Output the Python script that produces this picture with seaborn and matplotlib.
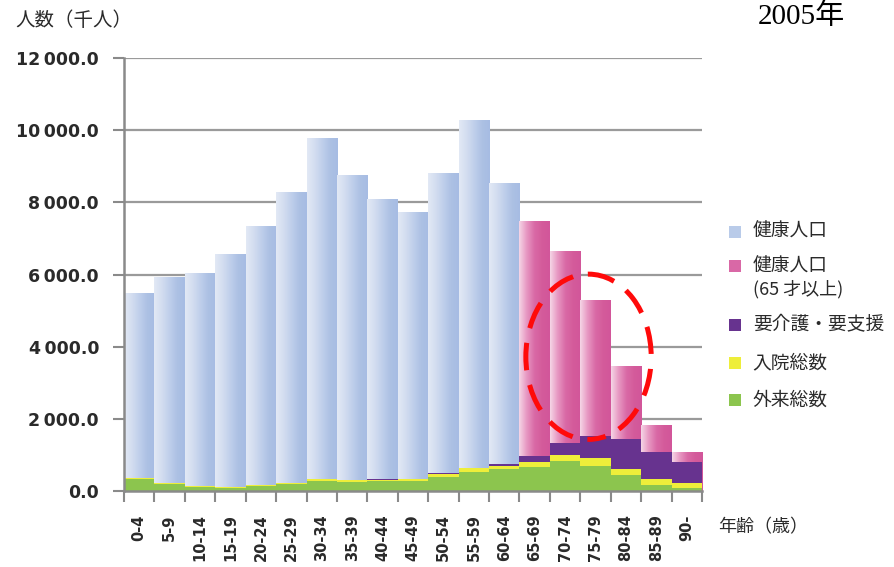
import numpy as np
import pandas as pd
import matplotlib
matplotlib.use("Agg")
import matplotlib.pyplot as plt
from matplotlib.colors import LinearSegmentedColormap
from matplotlib.patches import Ellipse, Rectangle
import seaborn as sns

# Population by age group, 2005 (thousand persons)
ages = ["0-4", "5-9", "10-14", "15-19", "20-24", "25-29", "30-34", "35-39",
        "40-44", "45-49", "50-54", "55-59", "60-64", "65-69", "70-74",
        "75-79", "80-84", "85-89", "90-"]
population = [5490, 5920, 6030, 6570, 7350, 8290, 9780, 8750, 8090, 7740,
              8810, 10280, 8540, 7470, 6650, 5290, 3460, 1840, 1090]
care_support = [0, 0, 0, 0, 0, 0, 0, 0, 15, 15, 20, 20, 50, 175, 340,
                610, 820, 765, 595]
inpatients = [45, 30, 25, 25, 30, 35, 35, 35, 40, 40, 90, 95, 90, 120,
              170, 215, 165, 160, 140]
outpatients = [325, 190, 110, 90, 140, 190, 290, 260, 270, 285, 380, 535,
               610, 673, 830, 700, 445, 165, 75]
elderly_start = "65-69"

legend_labels = ["健康人口", "健康人口", "(65 才以上)", "要介護・要支援", "入院総数", "外来総数"]

BLUE = "#b9cbe9"
PINK = "#d968a6"
PURPLE = "#67338f"
YELLOW = "#eeee3a"
GREEN = "#8cc54e"
GRID = "#9a9a9a"
SPINE = "#8a8a8a"
INK = "#2a2a2a"

sns.set_style("white")
plt.rcParams["font.family"] = ["DejaVu Sans", "Noto Sans CJK JP"]
JP = ["Noto Sans CJK JP", "DejaVu Sans"]

df = pd.DataFrame({
    "age": ages,
    "population": population,
    "care": care_support,
    "inpatient": inpatients,
    "outpatient": outpatients,
})
first_elderly = ages.index(elderly_start)
df["group"] = np.where(np.arange(len(ages)) >= first_elderly, "elderly", "young")
df["cum_out"] = df["outpatient"]
df["cum_in"] = df["cum_out"] + df["inpatient"]
df["cum_care"] = df["cum_in"] + df["care"]

W, H = 894, 567
fig = plt.figure(figsize=(W / 100, H / 100), dpi=100)
ax = fig.add_axes([124 / W, 1 - 491 / H, (702 - 124) / W, (491 - 58) / H])

# Whole population bars; the healthy part is what stays visible on top
sns.barplot(data=df, x="age", y="population", hue="group",
            palette={"young": BLUE, "elderly": PINK}, hue_order=["young", "elderly"],
            order=ages, dodge=False, width=1.0, saturation=1, linewidth=0,
            errorbar=None, legend=False, ax=ax, zorder=2)

blue_cmap = LinearSegmentedColormap.from_list(
    "healthy", ["#e2e9f5", "#d3ddf0", "#bfcfeb", "#adc1e4", "#a6bce3"])
pink_cmap = LinearSegmentedColormap.from_list(
    "healthy65", ["#f5d6e6", "#e797c2", "#d96aa6", "#d45b9b", "#d2569a"])
ramp = np.linspace(0, 1, 128)[None, :]
for p in list(ax.patches):
    h = p.get_height()
    if not np.isfinite(h) or h <= 0:
        continue
    x0, w = p.get_x(), p.get_width()
    idx = int(round(x0 + w / 2))
    cmap = pink_cmap if idx >= first_elderly else blue_cmap
    im = ax.imshow(ramp, cmap=cmap, extent=(x0, x0 + w, 0, h), aspect="auto",
                   interpolation="bilinear", zorder=2.1)
    im.set_clip_path(p)

# Stacked components drawn as cumulative layers
for col, color, z in [("cum_care", PURPLE, 3), ("cum_in", YELLOW, 4), ("cum_out", GREEN, 5)]:
    sns.barplot(data=df, x="age", y=col, order=ages, color=color, width=1.0,
                saturation=1, linewidth=0, errorbar=None, ax=ax, zorder=z)

ax.set_xlim(-0.5, len(ages) - 0.5)
ax.set_ylim(0, 12000)
ax.set_xlabel("")
ax.set_ylabel("")

yt = np.arange(0, 12001, 2000)
ax.set_yticks(yt)
ax.set_yticklabels([f"{v:,.1f}".replace(",", "\u2009") for v in yt])
ax.yaxis.grid(True, color=GRID, linewidth=1.6)
ax.xaxis.grid(False)
ax.set_axisbelow(True)

ax.set_xticks(np.arange(-0.5, len(ages), 1.0), minor=True)
ax.tick_params(axis="y", length=8, width=1.5, color=SPINE, pad=10,
               labelsize=12.5, labelcolor=INK, left=True)
ax.tick_params(axis="x", which="major", length=0, pad=17, labelsize=10.5,
               labelrotation=90, labelcolor=INK)
ax.tick_params(axis="x", which="minor", length=8, width=1.5, color=SPINE, bottom=True)
for t in ax.get_yticklabels() + ax.get_xticklabels():
    t.set_fontweight("bold")

for side in ["top", "right"]:
    ax.spines[side].set_visible(False)
for side in ["left", "bottom"]:
    ax.spines[side].set_color(SPINE)
    ax.spines[side].set_linewidth(1.8)
    ax.spines[side].set_zorder(6)

# Highlight of the 70-84 age range
ring = Ellipse((14.77, 3720), width=4.12, height=4580, fill=False,
               edgecolor="#ff0a0a", linewidth=3.6, linestyle=(2, (5.5, 3.0)),
               zorder=7)
ax.add_patch(ring)

fig.text(15 / W, 1 - 21 / H, "人数（千人）", ha="left", va="center",
         fontsize=14, family=JP, color=INK)
fig.text(718 / W, 1 - 527.5 / H, "年齢（歳）", ha="left", va="center",
         fontsize=13, family=JP, color=INK)
fig.text(758 / W, 1 - 24 / H, "2005年", ha="left", va="baseline",
         fontsize=21, family=["Liberation Serif", "Noto Sans CJK JP"], color="black")

# Legend
swatches = [BLUE, PINK, None, PURPLE, YELLOW, GREEN]
rows_y = [231.5, 266.5, 289.5, 325, 363, 400]
sizes = [13.5, 13.5, 13, 13.5, 13.5, 13.5]
for lab, col, yy, fs in zip(legend_labels, swatches, rows_y, sizes):
    if col is not None:
        fig.add_artist(Rectangle(((734.5 - 6) / W, 1 - (yy + 6) / H), 12 / W, 12 / H,
                                 transform=fig.transFigure, facecolor=col,
                                 edgecolor="none"))
    fig.text(752.7 / W, 1 - yy / H, lab, ha="left", va="center",
             fontsize=fs, family=JP, color=INK)

fig.savefig("out.png", dpi=100)
